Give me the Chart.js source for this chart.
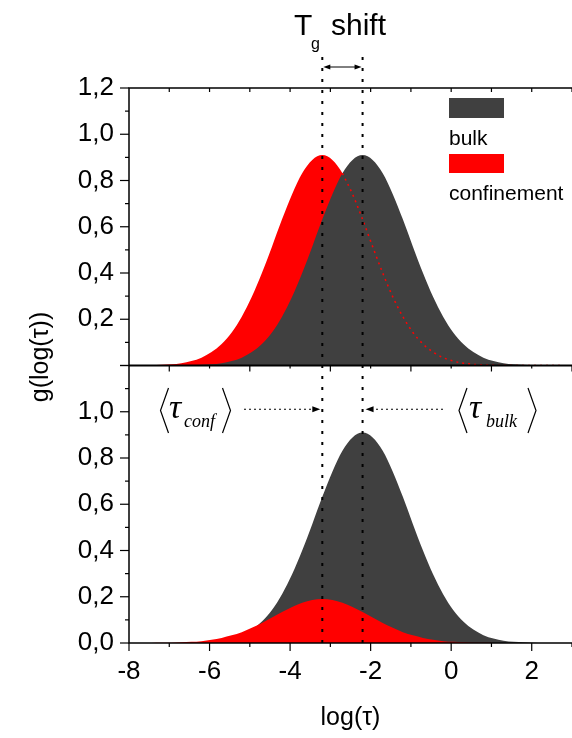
<!DOCTYPE html>
<html>
<head>
<meta charset="utf-8">
<script src="https://cdn.jsdelivr.net/npm/chart.js@4"></script>
<style>
  html, body { margin: 0; padding: 0; background: #fff; overflow: hidden; }
  #graf { display: block; }
</style>
</head>
<body>
<canvas id="graf" width="572" height="738"></canvas>
<script>
// datos: distribucion g(log(tau))
const logTau = [-7.7, -7.45, -7.2, -6.95, -6.7, -6.45, -6.2, -5.95, -5.7, -5.45, -5.2, -4.95, -4.7, -4.45,
  -4.2, -3.95, -3.7, -3.45, -3.2, -2.95, -2.7, -2.45, -2.2, -1.95, -1.7, -1.45, -1.2, -0.95, -0.7, -0.45,
  -0.2, 0.05, 0.3, 0.55, 0.8, 1.05, 1.3, 1.55, 1.8, 2.05, 2.3, 2.55, 2.8];

// panel superior
const bulkTop = [0, 0, 0, 0, 0, 0.001, 0.003, 0.005, 0.010, 0.019, 0.034, 0.058, 0.093, 0.143,
  0.211, 0.297, 0.400, 0.514, 0.632, 0.741, 0.831, 0.889, 0.910, 0.889, 0.831, 0.741, 0.632, 0.514,
  0.400, 0.297, 0.211, 0.143, 0.093, 0.058, 0.034, 0.019, 0.010, 0.005, 0.003, 0.001, 0, 0, 0];
const confTop = [0, 0.001, 0.003, 0.005, 0.010, 0.019, 0.034, 0.058, 0.093, 0.143, 0.211, 0.297, 0.400, 0.514,
  0.632, 0.741, 0.831, 0.889, 0.910, 0.889, 0.831, 0.741, 0.632, 0.514, 0.400, 0.297, 0.211, 0.143,
  0.093, 0.058, 0.034, 0.019, 0.010, 0.005, 0.003, 0.001, 0, 0, 0, 0, 0, 0, 0];

// panel inferior
const bulkBottom = [0, 0, 0, 0, 0, 0.001, 0.003, 0.005, 0.010, 0.019, 0.034, 0.058, 0.093, 0.143,
  0.211, 0.297, 0.400, 0.514, 0.632, 0.741, 0.831, 0.889, 0.910, 0.889, 0.831, 0.741, 0.632, 0.514,
  0.400, 0.297, 0.211, 0.143, 0.093, 0.058, 0.034, 0.019, 0.010, 0.005, 0.003, 0.001, 0, 0, 0];
const confBottom = [0, 0, 0.001, 0.001, 0.003, 0.005, 0.008, 0.014, 0.022, 0.033, 0.047, 0.066, 0.087, 0.110,
  0.134, 0.156, 0.174, 0.186, 0.190, 0.186, 0.174, 0.156, 0.134, 0.110, 0.087, 0.066, 0.047, 0.033,
  0.022, 0.014, 0.008, 0.005, 0.003, 0.001, 0.001, 0, 0, 0, 0, 0, 0, 0, 0];

const meanLogTau = [-3.2, -2.2];      // <tau_conf>, <tau_bulk>
const dottedFrom = -2.7;              // donde empieza la linea punteada roja
const seriesLabels = ['bulk', 'confinement'];
const seriesColors = ['#404040', '#ff0000'];
const xTickLabels = ['-8', '-6', '-4', '-2', '0', '2'];
const yTopLabels = ['0,2', '0,4', '0,6', '0,8', '1,0', '1,2'];
const yBottomLabels = ['0,0', '0,2', '0,4', '0,6', '0,8', '1,0'];

const SANS = "'Liberation Sans', Arial, sans-serif";
const SERIF = "'Liberation Serif', 'Times New Roman', serif";
Chart.defaults.font.family = SANS;
Chart.defaults.color = '#000';

const puntos = arr => logTau.map((x, i) => ({ x: x, y: arr[i] }));
const fmt = v => v.toFixed(1).replace('.', ',');

function flecha(ctx, tipX, y, dir, len, half) {
  ctx.beginPath();
  ctx.moveTo(tipX, y);
  ctx.lineTo(tipX - dir * len, y - half);
  ctx.lineTo(tipX - dir * len, y + half);
  ctx.closePath();
  ctx.fill();
}

function corchete(ctx, x, top, bottom, dir) {
  ctx.beginPath();
  ctx.moveTo(x + dir * 8, top);
  ctx.lineTo(x, (top + bottom) / 2);
  ctx.lineTo(x + dir * 8, bottom);
  ctx.stroke();
}

// todo lo que no es serie: marco, ticks, lineas punteadas, textos
const extras = {
  id: 'extras',
  afterDraw(chart) {
    const ctx = chart.ctx;
    const a = chart.chartArea;
    const sx = chart.scales.x, yt = chart.scales.yTop, yb = chart.scales.yBot;
    const mid = yt.getPixelForValue(0);
    ctx.save();
    ctx.strokeStyle = '#000';
    ctx.fillStyle = '#000';

    // marco
    ctx.lineWidth = 1.5;
    ctx.beginPath();
    ctx.moveTo(a.right, a.top); ctx.lineTo(a.left, a.top); ctx.lineTo(a.left, a.bottom); ctx.lineTo(a.right, a.bottom);
    ctx.stroke();
    ctx.lineWidth = 2;
    ctx.beginPath(); ctx.moveTo(a.left, mid); ctx.lineTo(a.right, mid); ctx.stroke();

    // ticks eje y
    ctx.lineWidth = 1.2;
    [yt, yb].forEach(s => {
      for (let i = 0; i <= 12; i++) {
        const p = s.getPixelForValue(i / 10);
        const len = i % 2 === 0 ? 9 : 4;
        ctx.beginPath(); ctx.moveTo(a.left - len, p); ctx.lineTo(a.left, p); ctx.stroke();
      }
    });
    // ticks eje x
    for (let v = -8; v <= 3; v++) {
      const p = sx.getPixelForValue(v);
      const len = v % 2 === 0 ? 8 : 4;
      ctx.beginPath(); ctx.moveTo(p, a.bottom); ctx.lineTo(p, a.bottom + len); ctx.stroke();
      if (v > -8) {
        ctx.beginPath(); ctx.moveTo(p, a.top); ctx.lineTo(p, a.top + 4); ctx.stroke();
        ctx.beginPath(); ctx.moveTo(p, mid); ctx.lineTo(p, mid + (v % 2 === 0 ? 3 : 6)); ctx.stroke();
      }
    }

    // lineas punteadas verticales en <tau>
    const pConf = sx.getPixelForValue(meanLogTau[0]);
    const pBulk = sx.getPixelForValue(meanLogTau[1]);
    ctx.lineWidth = 2;
    ctx.setLineDash([3, 8]);
    [pConf, pBulk].forEach(p => {
      ctx.beginPath(); ctx.moveTo(p, 57); ctx.lineTo(p, a.bottom); ctx.stroke();
    });
    ctx.setLineDash([]);

    // flecha Tg shift
    ctx.lineWidth = 1;
    ctx.beginPath(); ctx.moveTo(pConf + 4, 67); ctx.lineTo(pBulk - 4, 67); ctx.stroke();
    flecha(ctx, pConf + 1, 67, -1, 7, 2.5);
    flecha(ctx, pBulk - 1, 67, 1, 7, 2.5);
    ctx.textBaseline = 'alphabetic';
    ctx.textAlign = 'left';
    ctx.font = '30px ' + SANS;
    ctx.fillText('T', 294, 35);
    ctx.fillText('shift', 331, 35);
    ctx.font = '16px ' + SANS;
    ctx.fillText('g', 311, 49);

    // flechas punteadas del panel inferior
    const yA = yb.getPixelForValue(1.0) - 2.5;
    ctx.setLineDash([2, 3]);
    ctx.beginPath(); ctx.moveTo(244, yA); ctx.lineTo(pConf - 9, yA); ctx.stroke();
    ctx.beginPath(); ctx.moveTo(443, yA); ctx.lineTo(pBulk + 10, yA); ctx.stroke();
    ctx.setLineDash([]);
    flecha(ctx, pConf - 2, yA, 1, 8, 3);
    flecha(ctx, pBulk + 3, yA, -1, 8, 3);

    // <tau_conf>  <tau_bulk>
    ctx.lineWidth = 1.2;
    corchete(ctx, 160.5, 388, 433, 1);
    corchete(ctx, 230.5, 388, 433, -1);
    corchete(ctx, 459, 388, 433, 1);
    corchete(ctx, 536, 388, 433, -1);
    ctx.font = 'italic 34px ' + SERIF;
    ctx.fillText('\u03c4', 169, 418);
    ctx.fillText('\u03c4', 469, 418);
    ctx.font = 'italic 18px ' + SERIF;
    ctx.fillText('conf', 184, 427);
    ctx.fillText('bulk', 486, 427);

    // leyenda
    ctx.font = '21px ' + SANS;
    ctx.fillStyle = seriesColors[0];
    ctx.fillRect(449, 98, 55, 20);
    ctx.fillStyle = seriesColors[1];
    ctx.fillRect(449, 154, 55, 19);
    ctx.fillStyle = '#000';
    ctx.fillText(seriesLabels[0], 449, 145);
    ctx.fillText(seriesLabels[1], 449, 200);

    // titulos de ejes
    ctx.font = '25px ' + SANS;
    ctx.textAlign = 'center';
    ctx.fillText('log(\u03c4)', (a.left + a.right) / 2, 725);
    ctx.translate(48, 357);
    ctx.rotate(-Math.PI / 2);
    ctx.fillText('g(log(\u03c4))', 0, 0);
    ctx.restore();
  }
};

const rellenar = (data, color, eje, orden) => ({
  data: data,
  yAxisID: eje,
  backgroundColor: color,
  borderColor: 'rgba(0,0,0,0)',
  borderWidth: 0,
  pointRadius: 0,
  fill: 'origin',
  cubicInterpolationMode: 'monotone',
  order: orden
});

const ejeY = (etiquetas, peso) => ({
  type: 'linear', min: 0, max: 1.2, position: 'left', stack: 'paneles', stackWeight: 1, weight: peso,
  grid: { display: false, drawTicks: false }, border: { display: false },
  ticks: {
    stepSize: 0.2, autoSkip: false, padding: 15, font: { size: 26 }, color: '#000',
    callback: v => etiquetas.includes(fmt(v)) ? fmt(v) : ''
  },
  afterFit: s => { s.width = 129; }
});

new Chart(document.getElementById('graf'), {
  type: 'line',
  data: {
    datasets: [
      Object.assign(rellenar(puntos(bulkTop), seriesColors[0], 'yTop', 2), { label: seriesLabels[0] }),
      Object.assign(rellenar(puntos(confTop), seriesColors[1], 'yTop', 3), { label: seriesLabels[1] }),
      {
        data: logTau.map((x, i) => ({ x: x, y: x >= dottedFrom ? confTop[i] : null })),
        yAxisID: 'yTop',
        borderColor: seriesColors[1],
        borderWidth: 1.5,
        borderDash: [2, 4],
        pointRadius: 0,
        fill: false,
        cubicInterpolationMode: 'monotone',
        order: 1
      },
      rellenar(puntos(bulkBottom), seriesColors[0], 'yBot', 5),
      rellenar(puntos(confBottom), seriesColors[1], 'yBot', 4)
    ]
  },
  options: {
    responsive: false,
    animation: false,
    devicePixelRatio: 1,
    layout: { padding: { top: 88, left: 0, right: 0, bottom: 0 } },
    plugins: { legend: { display: false }, tooltip: { enabled: false } },
    scales: {
      x: {
        type: 'linear', min: -8, max: 3, position: 'bottom',
        grid: { display: false, drawTicks: false }, border: { display: false },
        ticks: {
          stepSize: 2, autoSkip: false, maxRotation: 0, padding: 13,
          font: { size: 26 }, color: '#000',
          callback: v => xTickLabels.includes(String(v)) ? String(v) : ''
        },
        afterFit: s => { s.height = 95; s.paddingLeft = 0; s.paddingRight = 0; }
      },
      yTop: ejeY(yTopLabels, 2),
      yBot: ejeY(yBottomLabels, 1)
    }
  },
  plugins: [extras]
});
</script>
</body>
</html>
